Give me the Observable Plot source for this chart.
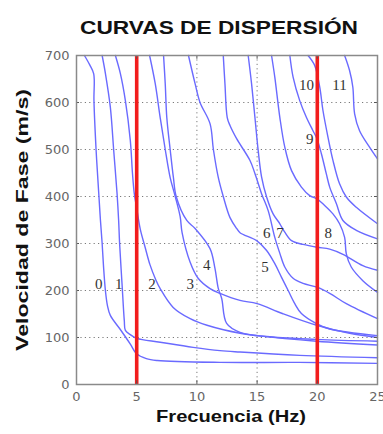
<!DOCTYPE html>
<html><head><meta charset="utf-8">
<script src="https://cdn.jsdelivr.net/npm/d3@7"></script>
<script src="https://cdn.jsdelivr.net/npm/@observablehq/plot@0.6"></script>
<style>body{margin:0;background:#fff}#chart svg{display:block}</style>
</head><body><div id="chart"></div>
<script>
// Dispersion curves: [frequency (Hz), phase velocity (m/s)]
const mode0 = [[0.66,700],[1.1,680],[1.43,661],[1.45,604],[1.63,498],[1.85,406],[1.99,349],[2.13,300],[2.24,253],[2.4,200],[2.57,168],[2.81,147],[3.64,117],[4.47,86],[4.97,66],[5.8,55],[6.71,51],[11.92,47],[18.5,47],[25,45]];
const mode1 = [[2.13,700],[2.4,662],[2.81,590],[3.09,498],[3.37,406],[3.5,349],[3.58,300],[3.78,215],[3.97,136],[4.06,115],[4.47,106],[5.02,98],[6.95,90],[9.69,79],[11.92,72],[13.58,69],[18.54,62],[25,57]];
const mode2 = [[3.23,700],[3.64,662],[4.06,604],[4.47,519],[4.65,449],[4.8,406],[5.0,375],[5.3,330],[5.71,291],[6.1,255],[6.6,222],[6.95,204],[8.03,164],[9.44,140],[10.84,126],[13.58,109],[15.0,104],[19.95,92],[25,84]];
const mode3 = [[6.07,700],[6.54,640],[6.95,568],[7.37,500],[7.78,440],[8.2,400],[8.61,357],[8.77,323],[9.44,260],[10.1,226],[11.09,204],[11.92,194],[13.58,179],[15.0,172],[17.1,151],[19.95,126],[22.68,109],[25,100]];
const mode4 = [[7.23,700],[7.37,640],[7.5,568],[7.78,500],[8.05,440],[8.28,400],[9.16,349],[9.85,332],[11.09,289],[11.5,247],[11.78,204],[12.06,183],[12.47,130],[13.58,111],[15.8,102],[19.9,96],[25,92]];
const mode5 = [[9.3,700],[9.85,640],[10.26,600],[11.09,555],[11.37,500],[11.78,440],[12.19,400],[12.75,355],[13.3,332],[13.58,323],[14.96,306],[15.79,285],[16.47,257],[17.03,228],[17.58,200],[18.13,172],[18.68,151],[19.97,129],[21.03,118],[25,104]];
const mode6 = [[12.19,700],[12.33,640],[12.52,568],[12.75,551],[13.3,523],[14.4,477],[14.82,449],[15.37,406],[15.92,370],[16.47,313],[16.89,279],[17.3,250],[17.99,226],[18.82,215],[19.97,207],[21.03,194],[22.41,172],[25,140]];
const mode7 = [[14.26,700],[14.54,640],[14.82,568],[15.09,498],[15.37,442],[15.79,399],[16.33,363],[16.89,342],[17.3,324],[17.86,306],[18.82,298],[19.97,292],[21.03,288],[22.13,277],[23.78,253],[25,243]];
const mode8 = [[16.2,700],[16.47,654],[16.89,568],[17.3,505],[17.86,455],[18.68,420],[19.37,402],[19.97,395],[20.61,381],[21.3,363],[21.85,342],[22.27,313],[22.41,278],[22.82,250],[23.78,221],[25,196]];
const mode9 = [[17.72,700],[17.99,654],[18.54,604],[19.1,568],[19.64,540],[19.97,523],[20.34,491],[20.75,448],[21.03,420],[21.58,385],[22.13,349],[23.24,328],[25,310]];
const mode10 = [[19.23,700],[19.78,679],[20.2,633],[20.47,583],[20.89,526],[21.3,477],[21.85,427],[22.41,399],[23.24,377],[25,342]];
const mode11 = [[22.27,700],[22.68,668],[22.95,633],[23.1,576],[23.51,540],[24.34,505],[25,480]];

const modeLabels = ["0","1","2","3","4","5","6","7","8","9","10","11"];
const labelFreq  = [1.85,3.5,6.27,9.44,10.82,15.65,15.8,16.9,20.9,19.37,19.1,21.85];
const labelVel   = [214,214,214,214,253,250,322,322,322,523,636,636];

const redFreqs = [5, 20];
const xTicks = [0,5,10,15,20,25];
const yTicks = [0,100,200,300,400,500,600,700];

const modes = [mode0,mode1,mode2,mode3,mode4,mode5,mode6,mode7,mode8,mode9,mode10,mode11];
const curveData = modes.flatMap((m,i)=>m.map(([f,v])=>({mode:i,f,v})));
const labels = modeLabels.map((t,i)=>({t,f:labelFreq[i],v:labelVel[i]}));

const grid = {stroke:"#7a7a7a", strokeOpacity:1, strokeWidth:1, strokeDasharray:"1.2,3.2"};

const plot = Plot.plot({
  width:383, height:434,
  marginLeft:76, marginRight:6, marginTop:55, marginBottom:50,
  x:{domain:[0,25], label:null},
  y:{domain:[0,700], label:null},
  style:{fontFamily:"DejaVu Sans, sans-serif", fontSize:"13px", color:"#666", background:"#fff"},
  marks:[
    Plot.gridY(yTicks.slice(1,-1), grid),
    Plot.gridX([10,15], grid),
    Plot.line(curveData,{x:"f",y:"v",z:"mode",stroke:"#6a6aff",strokeWidth:1.4,curve:"catmull-rom"}),
    Plot.ruleX(redFreqs,{stroke:"#f21d1d",strokeWidth:3.6}),
    Plot.ruleX(xTicks,{y1:0,y2:8,stroke:"#555"}),
    Plot.ruleX(xTicks,{y1:692,y2:700,stroke:"#555"}),
    Plot.ruleY(yTicks,{x1:0,x2:0.25,stroke:"#555"}),
    Plot.ruleY(yTicks,{x1:24.75,x2:25,stroke:"#555"}),
    Plot.frame({stroke:"#8a8a8a",strokeWidth:1.5}),
    Plot.axisX(xTicks,{tickSize:0,tickPadding:7,fill:"#666",fontSize:13}),
    Plot.axisY(yTicks,{tickSize:0,tickPadding:7,fill:"#666",fontSize:13}),
    Plot.text(labels,{x:"f",y:"v",text:"t",fontFamily:"Liberation Serif, serif",fontSize:15,fill:"#333"}),
    Plot.text(["CURVAS DE DISPERSIÓN"],{frameAnchor:"top",dx:-8,dy:-35,fontFamily:"Liberation Sans, Arial, sans-serif",fontWeight:"bold",fontSize:18.5,fill:"#111"}),
    Plot.text(["Frecuencia (Hz)"],{frameAnchor:"bottom",dx:4,dy:37,fontFamily:"Liberation Sans, Arial, sans-serif",fontWeight:"bold",fontSize:16.5,fill:"#111"}),
    Plot.text(["Velocidad de Fase (m/s)"],{frameAnchor:"left",textAnchor:"middle",dx:-54,dy:0,rotate:-90,fontFamily:"Liberation Sans, Arial, sans-serif",fontWeight:"bold",fontSize:17,fill:"#111"})
  ]
});
document.getElementById("chart").appendChild(plot);
const stretch = {"CURVAS DE DISPERSIÓN":278, "Frecuencia (Hz)":150, "Velocidad de Fase (m/s)":262};
d3.select(plot).selectAll("text").each(function(){
  const t = this.textContent;
  if (stretch[t]) { this.setAttribute("textLength", stretch[t]); this.setAttribute("lengthAdjust","spacingAndGlyphs"); }
});
</script>
</body></html>
